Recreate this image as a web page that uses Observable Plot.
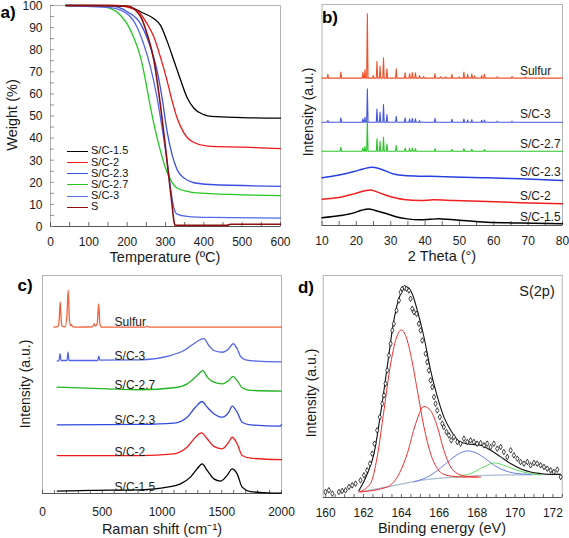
<!DOCTYPE html>
<html><head><meta charset="utf-8">
<script src="https://cdn.jsdelivr.net/npm/d3@7"></script>
<script src="https://cdn.jsdelivr.net/npm/@observablehq/plot@0.6"></script>
<style>
body{margin:0;background:#fff;font-family:"Liberation Sans",Arial,sans-serif;}
#fig{position:relative;width:569px;height:538px;overflow:hidden;background:#fff;}
#fig svg{position:absolute;}
.t{position:absolute;white-space:nowrap;color:#1a1a1a;font-size:14.5px;line-height:1;}
.rot{transform:translate(-50%,-50%) rotate(-90deg);}
.ctr{transform:translate(-50%,-50%);}
.lab{font-weight:bold;font-size:17px;color:#000;}
.lg{position:absolute;font-size:11px;line-height:11px;height:11px;white-space:nowrap;color:#111;}
.lg span{display:inline-block;width:21px;height:0;border-top:1.6px solid;vertical-align:middle;margin-right:3px;}
</style></head><body><div id="fig"></div><script>
// ---------- Panel a: TGA ----------
const tgaNames = ["S/C-1.5","S/C-2","S/C-2.3","S/C-2.7","S/C-3","S"];
const tgaColors = ["#000000","#f01818","#3a4fe0","#22c822","#5468ea","#8b1010"];
const tga_SC15 = [[40,100],[150,100],[200,99.6],[243,96.5],[270,94],[287,91],[304,84],[322,75],[330,71],[339,66.5],[356,58.5],[374,53.5],[400,50.6],[420,49.8],[500,49.3],[600,49]];
const tga_SC2 = [[40,100],[170,100],[226,97.7],[252,91.7],[270,85.6],[287,76.5],[304,66],[317,57],[330,49.2],[348,42.4],[374,38],[409,36.4],[504,35.9],[600,35.2]];
const tga_SC23 = [[40,100],[156,99.8],[200,97.2],[235,91.7],[261,81],[278,70.5],[291,58.3],[304,43.2],[317,32.6],[330,25.8],[348,22],[374,19.8],[417,19],[600,18.2]];
const tga_SC27 = [[40,100],[120,99.8],[156,98.7],[183,95.5],[200,91.7],[217,85.6],[235,76.5],[248,66],[261,53.8],[274,43.2],[287,34.1],[300,26.5],[313,21.2],[330,17.4],[365,15.6],[417,14.9],[600,14]];
const tga_SC3 = [[40,100],[156,99],[200,96.2],[226,90.2],[243,82.6],[261,72],[278,58.3],[291,44.7],[303,31],[313,17.4],[322,8.3],[330,5.6],[356,4.6],[417,4.1],[600,3.8]];
const tga_S = [[40,100],[200,99.8],[235,95],[252,87.1],[270,75],[283,59.8],[296,41.7],[309,22],[317,9.9],[323,1.5],[326,0.5],[460,0.5],[470,1],[600,1]];
const tgaXTicks = [0,100,200,300,400,500,600];
const tgaXMinor = [0,50,100,150,200,250,300,350,400,450,500,550,600];
const tgaYTicks = [0,10,20,30,40,50,60,70,80,90,100];
const tgaYMinor = [0,5,10,15,20,25,30,35,40,45,50,55,60,65,70,75,80,85,90,95,100];

// ---------- Panel b: XRD ----------
const xrdNames = ["Sulfur","S/C-3","S/C-2.7","S/C-2.3","S/C-2","S/C-1.5"];
const xrdColors = ["#f0502a","#4656e0","#2ac62a","#2840e0","#f02020","#000000"];
const xrdBase = {"Sulfur":66.7,"S/C-3":46.7,"S/C-2.7":33.6};
const xrdPeaksSulfur = [[11.7,1.7],[15.5,2.7],[21.9,2.5],[22.5,3.8],[23.2,29.1],[24.9,1.2],[26.0,7.5],[26.9,5.4],[27.9,9.2],[28.9,4.2],[31.6,4.2],[34.2,2.4],[35.5,2.0],[36.3,2.5],[37.2,2.4],[38.4,1.2],[39.6,0.8],[42.9,2.0],[44.5,0.6],[46.0,0.6],[47.8,1.7],[50.0,0.6],[51.3,2.7],[52.4,1.7],[53.6,1.9],[54.4,1.0],[56.5,1.2],[57.3,1.7],[61.0,0.6],[65.3,0.8],[69.2,0.5]];
const xrdPeaksSC3 = [[11.7,0.8],[15.5,2.0],[21.9,1.6],[22.5,2.3],[23.2,15.1],[26.0,6.0],[26.9,4.5],[27.9,8.0],[28.9,3.5],[31.6,2.7],[34.2,2.0],[35.5,1.5],[36.3,1.8],[37.2,1.6],[38.4,0.8],[42.9,1.8],[47.8,1.4],[51.3,1.5],[52.4,1.0],[53.6,1.2],[56.5,0.9],[57.3,1.0],[61.0,0.5],[65.3,0.5]];
const xrdPeaksSC27 = [[15.5,1.8],[21.9,1.5],[22.5,2.1],[23.2,14],[26.0,5.6],[26.9,4.4],[27.9,6.3],[28.9,3.3],[31.6,2.6],[34.2,1.4],[35.5,1.2],[36.3,1.4],[37.2,1.2],[42.9,1.2],[47.8,0.9],[51.3,1.2],[53.6,0.9],[57.3,0.8]];
const xrd_SC23 = [[10,21.6],[12.5,22.2],[15.4,23],[19.3,24.4],[22,25.6],[24.6,26.4],[27,25.6],[30.9,23.3],[34,22.6],[38.7,22.3],[44,22.2],[48.4,21.9],[58,21.6],[67.8,21.1],[80,20.4]];
const xrd_SC2 = [[10,11.9],[15.4,12.8],[19.3,14.3],[22,15.5],[24.1,16.1],[26,15.2],[28.9,13.6],[33.8,11.8],[38.7,11.3],[42.5,11.6],[48.4,11.3],[58,10.9],[67.8,10.3],[80,9.8]];
const xrd_SC15 = [[10,3.5],[15.4,4.5],[19.3,5.7],[21.5,6.9],[23.6,7.5],[25.5,6.8],[28.9,5.3],[31.5,4.0],[34.8,3.0],[38.7,2.6],[41.5,2.8],[44,3.0],[46.5,2.8],[48.4,2.6],[58,1.5],[67.8,1.1],[80,0.75]];
const xrdLabelY = [69.8,50.2,37,24.1,13.3,3.8];
const xrdLabelX = 67.6;
const xrdXTicks = [10,20,30,40,50,60,70,80];
const xrdXMinor = [10,15,20,25,30,35,40,45,50,55,60,65,70,75,80];

// ---------- Panel c: Raman ----------
const ramNames = ["Sulfur","S/C-3","S/C-2.7","S/C-2.3","S/C-2","S/C-1.5"];
const ramColors = ["#f2603c","#5264e6","#22b422","#3248e0","#f01c1c","#000000"];
const ram_Sulfur = [[95,76.3],[130,76.5],[140,80],[148,88],[156,80],[165,76.8],[190,76.5],[205,82],[215,93.4],[225,80],[235,77],[242,77.6],[250,76.6],[300,76.3],[420,76.5],[432,77.8],[444,76.8],[458,78],[470,87],[480,78],[492,76.3],[860,76.3],[876,76.8],[890,76.3],[2000,76.3]];
const ram_SC3 = [[123,60.7],[138,61],[147,64.1],[156,61],[205,61],[214,64.8],[222,61],[462,61],[471,63],[480,61.2],[820,61.3],[1043,62.9],[1183,65.6],[1266,68.7],[1350,71],[1392,67.9],[1434,65.6],[1503,64.8],[1559,66.4],[1595,68.7],[1629,66.4],[1657,62.9],[1699,61.3],[1796,60.7],[2000,60.4]];
const ram_SC27 = [[123,48.8],[541,48],[820,47.6],[1099,48.5],[1211,50.3],[1294,54.1],[1342,56.4],[1378,53.4],[1434,51.1],[1503,50.3],[1559,51.8],[1593,53.7],[1629,51.8],[1671,48.5],[1740,47.3],[2000,47]];
const ram_SC23 = [[123,31.5],[541,31.6],[820,31.7],[1099,32.3],[1211,35],[1280,39.6],[1336,42.2],[1378,39.6],[1434,36.6],[1503,35],[1559,37.3],[1587,40.1],[1629,37.3],[1671,32.7],[1740,31.5],[1990,30.9],[2000,31.6]];
const ram_SC2 = [[123,17.4],[820,17.4],[1099,18.2],[1211,21.3],[1280,25.8],[1330,27.8],[1378,25.1],[1434,21.6],[1503,20.5],[1559,23.6],[1587,25.8],[1629,22.8],[1671,17.4],[1740,16.2],[2000,15.5]];
const ram_SC15 = [[123,1.1],[402,1.4],[820,1.7],[1043,2.9],[1155,4.4],[1238,7.5],[1294,11.3],[1336,13.6],[1378,10.6],[1434,6.7],[1489,5.7],[1545,8.3],[1587,11.3],[1629,9],[1671,2.9],[1740,0.9],[1880,0.3],[2000,0.2]];
const ramLabelY = [78.6,62.9,49.5,33.5,19,2.9];
const ramLabelX = 603;
const ramXTicks = [0,500,1000,1500,2000];
const ramXMinor = [0,100,200,300,400,500,600,700,800,900,1000,1100,1200,1300,1400,1500,1600,1700,1800,1900,2000];

// ---------- Panel d: XPS ----------
const xpsPoints = [[159.99,2.5],[160.17,3.25],[160.35,1.75],[160.7,2.5],[160.87,2.95],[161.05,3.25],[161.23,4.75],[161.4,5.5],[161.58,6.25],[161.84,7.75],[162.02,10],[162.19,12.25],[162.34,15.25],[162.46,19.75],[162.58,24.25],[162.72,30.25],[162.86,36.25],[162.99,42.25],[163.08,46],[163.16,51.25],[163.25,57.25],[163.34,64],[163.43,69.25],[163.52,75.25],[163.6,78.25],[163.74,84.25],[163.87,88.75],[163.96,92.5],[164.04,94],[164.17,94.5],[164.27,94],[164.4,93.25],[164.48,89.5],[164.57,85],[164.66,83.5],[164.8,82.75],[164.92,78.25],[165.01,75.25],[165.1,70.75],[165.28,64.75],[165.36,61],[165.45,57.25],[165.54,52.75],[165.63,49.75],[165.72,45.25],[165.8,42.25],[165.89,39.25],[166.03,36.25],[166.16,33.25],[166.24,31.75],[166.38,29.5],[166.51,28],[166.63,25.75],[166.77,27.25],[166.95,25],[167.12,24.25],[167.3,26.5],[167.48,25],[167.65,25.75],[167.83,25],[168.0,24.25],[168.18,24.5],[168.36,23.5],[168.53,24.25],[168.71,22.75],[168.88,24.25],[169.06,22],[169.24,22.75],[169.41,20.5],[169.59,18.25],[169.77,21.25],[169.94,19],[170.12,17.5],[170.29,16],[170.47,15.25],[170.65,16],[170.82,14.5],[171.0,15.55],[171.17,15.25],[171.35,14.5],[171.53,13.75],[171.7,13],[171.88,12.25],[172.05,11.5],[172.23,12.55],[172.41,9.25]];
const xpsEnvelope = [[161.75,3],[162.2,10.7],[162.55,19.7],[162.9,37.8],[163.25,58.8],[163.6,79.8],[163.96,91.8],[164.27,94.8],[164.57,91.8],[164.84,84.3],[165.19,72.3],[165.54,57.3],[165.9,45.3],[166.24,36.3],[166.6,30.3],[167.1,25],[167.65,24],[168.18,23.5],[168.71,21.3],[169.24,18.3],[169.76,15.3],[170.29,13],[170.82,11.5],[171.35,10.8],[171.88,10.4],[172.4,10.4]];
const xpsRed1 = [[161.75,2.5],[162.37,6.3],[162.72,18.2],[163.08,39.3],[163.43,60.2],[163.78,73],[163.99,75.5],[164.22,73],[164.48,64.8],[164.84,48.3],[165.19,31.8],[165.54,19.8],[165.9,13],[166.24,10.4],[166.77,9.5],[167.3,9.2],[168.0,9.2]];
const xpsRed2 = [[161.84,2.5],[163.25,4.75],[163.78,9.2],[164.31,19.8],[164.75,33.2],[165.19,41],[165.54,39.2],[165.9,31.8],[166.24,21.3],[166.6,13.8],[166.95,10.8],[167.48,9.5],[168.18,9.2]];
const xpsBlue = [[164.66,7],[165.54,10],[166.24,14.5],[166.95,19.3],[167.48,21],[167.83,20.5],[168.36,18],[168.9,14.5],[169.41,12.3],[169.94,11],[170.82,10.4]];
const xpsGreen = [[166.77,9.2],[167.65,10.8],[168.36,13.8],[168.9,15.6],[169.41,14.5],[170.1,12.3],[170.82,10.8],[171.35,10.3]];
const xpsBaseline = [[161.84,2.5],[163.25,4.75],[165.0,7.75],[166.77,9.2],[168.53,10],[170.29,10.2],[172.4,10.4]];
const xpsXTicks = [160,162,164,166,168,170,172];
const xpsXMinor = [160,160.5,161,161.5,162,162.5,163,163.5,164,164.5,165,165.5,166,166.5,167,167.5,168,168.5,169,169.5,170,170.5,171,171.5,172,172.5];

// ---------- helpers ----------
const fig = document.getElementById("fig");
const FONT = "'Liberation Sans', Arial, sans-serif";
function place(svg, left, top) { svg.style.left = left + "px"; svg.style.top = top + "px"; fig.appendChild(svg); }
function txt(s, x, y, cls, extra) {
  const d = document.createElement("div"); d.className = "t " + cls; d.textContent = s;
  d.style.left = x + "px"; d.style.top = y + "px"; if (extra) Object.assign(d.style, extra); fig.appendChild(d);
}
const P = d => d[0], Q = d => d[1];
const fmt = d => String(d);
function spikes(base, peaks, x0, x1) {
  const pts = [[x0, base]];
  for (const [x, h] of peaks) { pts.push([x - 0.2, base], [x, base + h], [x + 0.2, base]); }
  pts.push([x1, base]);
  return pts;
}
function innerX(vals, plotH, len) { return Plot.tickX(vals, {x: d => d, insetTop: plotH - len, stroke: "#444", strokeWidth: 0.8}); }
const style = {fontFamily: FONT, fontSize: "12px", color: "#1a1a1a", background: "transparent", overflow: "visible"};

// ---------- a ----------
{
  const series = [tga_SC15, tga_SC2, tga_SC23, tga_SC27, tga_SC3, tga_S];
  const marks = [
    Plot.frame({stroke: "#b4b4b4"}),
    Plot.ruleY([0], {stroke: "#555"}),
    innerX(tgaXMinor, 221, 4),
    Plot.tickY(tgaYMinor, {y: d => d, insetRight: 226, stroke: "#777", strokeWidth: 0.8}),
    Plot.axisX(tgaXTicks, {tickSize: 0, tickPadding: 10.5, label: null, tickFormat: fmt}),
    Plot.axisY(tgaYTicks, {tickSize: 0, tickPadding: 8, label: null, tickFormat: fmt, dy: 0.5})
  ];
  series.forEach((s, i) => marks.push(Plot.line(s, {x: P, y: Q, stroke: tgaColors[i], strokeWidth: i === 5 ? 1.6 : 1.3, curve: "monotone-x"})));
  place(Plot.plot({width: 285, height: 268, marginLeft: 50, marginRight: 5, marginTop: 5, marginBottom: 42,
    x: {domain: [0, 600], axis: null}, y: {domain: [0, 100], axis: null}, style, marks}), 0, 0);
  const rows = [150.7, 162, 173.2, 184.4, 195.6, 206.8];
  tgaNames.forEach((n, i) => {
    const d = document.createElement("div"); d.className = "lg";
    d.style.left = "67px"; d.style.top = (rows[i] - 5.5) + "px";
    d.innerHTML = `<span style="border-color:${tgaColors[i]}"></span>`;
    d.appendChild(document.createTextNode(n)); fig.appendChild(d);
  });
}
// ---------- b ----------
{
  const series = [
    spikes(xrdBase["Sulfur"], xrdPeaksSulfur, 10, 80),
    spikes(xrdBase["S/C-3"], xrdPeaksSC3, 10, 80),
    spikes(xrdBase["S/C-2.7"], xrdPeaksSC27, 10, 80),
    xrd_SC23, xrd_SC2, xrd_SC15];
  const marks = [
    Plot.frame({stroke: "#b4b4b4"}),
    Plot.ruleY([0], {stroke: "#555"}),
    innerX(xrdXMinor, 221, 4),
    Plot.axisX(xrdXTicks, {tickSize: 0, tickPadding: 10.5, label: null, tickFormat: fmt})
  ];
  series.forEach((s, i) => marks.push(Plot.line(s, {x: P, y: Q, stroke: xrdColors[i], strokeWidth: i >= 3 ? 1.5 : 1.1, curve: i >= 3 ? "monotone-x" : "linear"})));
  marks.push(Plot.text(xrdNames, {x: () => xrdLabelX, y: (d, i) => xrdLabelY[i], text: d => d, textAnchor: "start", fontSize: 12, fill: "#1a1a1a"}));
  place(Plot.plot({width: 284, height: 268, marginLeft: 36.5, marginRight: 7, marginTop: 4, marginBottom: 43,
    x: {domain: [10, 80], axis: null}, y: {domain: [0, 100], axis: null}, style, marks}), 285, 0);
}
// ---------- c ----------
{
  const series = [ram_Sulfur, ram_SC3, ram_SC27, ram_SC23, ram_SC2, ram_SC15];
  const marks = [
    Plot.frame({stroke: "#b4b4b4"}),
    Plot.ruleY([0], {stroke: "#555"}),
    innerX(ramXMinor, 218, 3),
    Plot.axisX(ramXTicks, {tickSize: 0, tickPadding: 14, label: null, tickFormat: fmt})
  ];
  series.forEach((s, i) => marks.push(Plot.line(s, {x: P, y: Q, stroke: ramColors[i], strokeWidth: 1.3, curve: "monotone-x"})));
  marks.push(Plot.text(ramNames, {x: () => ramLabelX, y: (d, i) => ramLabelY[i], text: d => d, textAnchor: "start", fontSize: 12, fill: "#1a1a1a"}));
  place(Plot.plot({width: 285, height: 270, marginLeft: 42, marginRight: 4, marginTop: 7, marginBottom: 45,
    x: {domain: [0, 2000], axis: null}, y: {domain: [0, 100], axis: null}, style, marks}), 0, 268);
}
// ---------- d ----------
{
  const marks = [
    Plot.frame({stroke: "#b4b4b4"}),
    Plot.ruleY([0], {stroke: "#555"}),
    innerX(xpsXMinor, 222, 3),
    Plot.axisX(xpsXTicks, {tickSize: 0, tickPadding: 10.5, label: null, tickFormat: fmt}),
    Plot.line(xpsBaseline, {x: P, y: Q, stroke: "#a9bcd2", strokeWidth: 1.2, curve: "monotone-x"}),
    Plot.line(xpsGreen, {x: P, y: Q, stroke: "#5fdc5f", strokeWidth: 1, curve: "monotone-x"}),
    Plot.line(xpsBlue, {x: P, y: Q, stroke: "#6a7ce6", strokeWidth: 1, curve: "monotone-x"}),
    Plot.line(xpsRed2, {x: P, y: Q, stroke: "#f03030", strokeWidth: 1, curve: "monotone-x"}),
    Plot.line(xpsRed1, {x: P, y: Q, stroke: "#f03030", strokeWidth: 1, curve: "monotone-x"}),
    Plot.line(xpsEnvelope, {x: P, y: Q, stroke: "#111", strokeWidth: 1.1, curve: "monotone-x"}),
    Plot.dot(xpsPoints, {x: P, y: Q, symbol: "diamond", r: 1.7, stroke: "#111", fill: "#fff", strokeWidth: 0.8})
  ];
  place(Plot.plot({width: 284, height: 270, marginLeft: 37.7, marginRight: 7.3, marginTop: 7, marginBottom: 41,
    x: {domain: [159.87, 172.49], axis: null}, y: {domain: [0, 100], axis: null}, style, marks}), 285, 268);
}
// ---------- titles ----------
txt("Weight (%)", 12, 115, "rot");
txt("Temperature (\u00BAC)", 165, 257, "ctr");
txt("Intensity (a.u.)", 308, 112, "rot", {fontSize: "14px"});
txt("2 Theta (\u00B0)", 442, 256, "ctr");
txt("Intensity (a.u.)", 25, 384, "rot", {fontSize: "14px"});
txt("Raman shift (cm\u207B\u00B9)", 162, 529, "ctr");
txt("Intensity (a.u.)", 311, 393, "rot", {fontSize: "14px"});
txt("Binding energy (eV)", 442, 528, "ctr");
txt("S(2p)", 537, 291, "ctr", {fontSize: "14.5px"});
txt("a)", 8, 12, "ctr lab");
txt("b)", 330, 17, "ctr lab");
txt("c)", 25, 285, "ctr lab");
txt("d)", 306, 287, "ctr lab");
</script></body></html>
